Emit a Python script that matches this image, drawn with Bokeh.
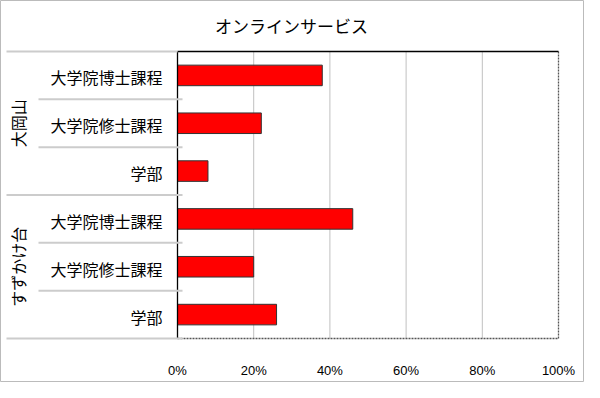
import math
from bokeh.plotting import figure
from bokeh.models import Range1d
from bokeh.core.properties import value
from bokeh.embed import file_html
from bokeh.resources import INLINE

title = "オンラインサービス"
groups = ["大岡山", "すずかけ台"]
subs = ["大学院博士課程", "大学院修士課程", "学部"]
values_ookayama = [38, 22, 8]
values_suzukake = [46, 20, 26]
x_ticks = [0, 20, 40, 60, 80, 100]
x_tick_labels = ["0%", "20%", "40%", "60%", "80%", "100%"]

group_values = [values_ookayama, values_suzukake]

# ---- layout (pixels inside the figure canvas) ----
W, H = 584, 382
PL, PR, PT, PB = 177, 558, 51, 338      # plot-area edges
XMAX = 100
n_cat = len(groups) * len(subs)
sx = (PR - PL) / XMAX                   # px per x unit
sy = (PB - PT) / n_cat                  # px per category

def X(px):
    return (px - PL) / sx

def Y(py):
    return (PB - py) / sy

JP = "Noto Sans CJK JP"

p = figure(width=W, height=H, output_backend="svg", toolbar_location=None,
           x_range=Range1d(X(0), X(W)), y_range=Range1d(Y(H), Y(0)),
           min_border=0, x_axis_location=None, y_axis_location=None)
p.xgrid.grid_line_color = None
p.ygrid.grid_line_color = None
p.outline_line_color = "#bbbbbb"
p.outline_line_width = 1
p.background_fill_color = "white"

# category positions: first group at top
cat_y, cat_v, cat_lbl = [], [], []
k = n_cat
for g, vals in zip(groups, group_values):
    for s, v in zip(subs, vals):
        k -= 1
        cat_y.append(k + 0.5)
        cat_v.append(v)
        cat_lbl.append(s)

# vertical grid lines
inner = [t for t in x_ticks if 0 < t < XMAX]
p.segment(x0=inner, x1=inner, y0=[0] * len(inner), y1=[n_cat] * len(inner),
          line_color="#c0c0c0", line_width=1)

# bars
p.hbar(y=cat_y, left=0, right=cat_v, height=0.43, fill_color="#ff0000",
       line_color="#333333", line_width=1)

# plot-area border
p.segment(x0=[XMAX, 0], x1=[XMAX, XMAX], y0=[0, 0], y1=[n_cat, 0],
          line_color="#555555", line_width=1.3, line_dash="2 1")
p.segment(x0=[0, 0], x1=[XMAX, 0], y0=[n_cat, 0], y1=[n_cat, n_cat],
          line_color="#000000", line_width=1.3)

# category separators at the left
per = len(subs)
sx0, sx1, sy0 = [], [], []
for b in range(n_cat + 1):
    if b == n_cat:
        a, c = X(6), 0
    elif b % per == 0:
        a, c = X(6), X(182)
    else:
        a, c = X(38), X(182)
    sx0.append(a); sx1.append(c); sy0.append(b)
p.segment(x0=sx0, x1=sx1, y0=sy0, y1=sy0, line_color="#cccccc", line_width=2)

# sub-category labels
lbl_y = [v - 2 / sy for v in cat_y]
p.text(x=[X(162)] * n_cat, y=lbl_y, text=cat_lbl, text_align="right",
       text_baseline="middle", text_font=value(JP), text_font_size=value("16px"),
       text_color="#000000")

# group labels (rotated)
gy = [n_cat - (i + 0.5) * per for i in range(len(groups))]
p.text(x=[X(17)] * len(groups), y=gy, text=groups, angle=math.pi / 2,
       text_align="center", text_baseline="middle", text_font=value(JP),
       text_font_size=value("16px"), text_color="#000000")

# x tick labels
p.text(x=x_ticks, y=[Y(370)] * len(x_ticks), text=x_tick_labels, text_align="center",
       text_baseline="middle", text_font=value("Liberation Sans"),
       text_font_size=value("13px"), text_color="#000000")

# title
p.text(x=[X(291)], y=[Y(25)], text=[title], text_align="center",
       text_baseline="middle", text_font=value(JP), text_font_size=value("17px"),
       text_color="#000000")

open("out.html", "w").write(file_html(p, INLINE))
